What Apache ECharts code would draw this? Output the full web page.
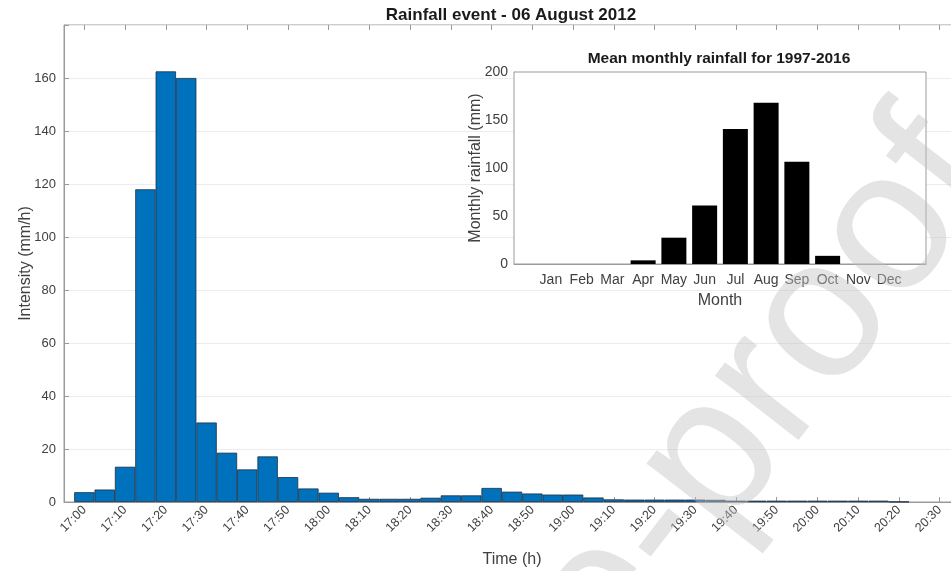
<!DOCTYPE html>
<html>
<head>
<meta charset="utf-8">
<script src="https://cdn.jsdelivr.net/npm/echarts@6/dist/echarts.min.js"></script>
<style>
  html, body { margin: 0; padding: 0; background: #fff; }
  #main { width: 951px; height: 571px; }
</style>
</head>
<body>
<div id="main"></div>
<script>
// rainfall event, 5 min bins
var times = [
  "17:00", "17:05", "17:10", "17:15", "17:20", "17:25", "17:30", "17:35", "17:40", "17:45", "17:50", "17:55",
  "18:00", "18:05", "18:10", "18:15", "18:20", "18:25", "18:30", "18:35", "18:40", "18:45", "18:50", "18:55",
  "19:00", "19:05", "19:10", "19:15", "19:20", "19:25", "19:30", "19:35", "19:40", "19:45", "19:50", "19:55",
  "20:00", "20:05", "20:10", "20:15", "20:20"
];
var intensity = [
  3.7, 4.7, 13.3, 118, 162.5, 160, 30, 18.6, 12.3, 17.2, 9.4, 5.1,
  3.5, 1.8, 1.2, 1.2, 1.2, 1.6, 2.5, 2.5, 5.3, 3.9, 3.2, 2.8,
  2.8, 1.7, 1.0, 0.9, 0.9, 0.9, 0.9, 0.8, 0.5, 0.5, 0.5, 0.5,
  0.5, 0.5, 0.5, 0.5, 0.1
];
var timeTicks = [
  "17:00", "17:10", "17:20", "17:30", "17:40", "17:50", "18:00", "18:10", "18:20", "18:30", "18:40",
  "18:50", "19:00", "19:10", "19:20", "19:30", "19:40", "19:50", "20:00", "20:10", "20:20", "20:30"
];

// inset: mean monthly rainfall 1997-2016
var months = ["Jan", "Feb", "Mar", "Apr", "May", "Jun", "Jul", "Aug", "Sep", "Oct", "Nov", "Dec"];
var monthlyRain = [0, 0, 0, 3.8, 27.4, 61, 140.5, 168, 106.5, 8.5, 0, 0];

var FONT = "Liberation Sans, Arial, sans-serif";
var AXIS_COLOR = "#9a9a9a";
var LABEL_COLOR = "#404040";

// minutes after 17:00
const toMin = t => {
  var p = t.split(":");
  return (parseInt(p[0]) - 17) * 60 + parseInt(p[1]);
};
const minToLabel = m => {
  for (var i = 0; i < timeTicks.length; i++) {
    if (toMin(timeTicks[i]) === m) return timeTicks[i];
  }
  return "";
};

var tickMin = timeTicks.map(toMin);
var monthPos = months.map((m, i) => i + 1);

var chart = echarts.init(document.getElementById("main"), null, { renderer: "canvas" });

var option = {
  animation: false,
  backgroundColor: "#fff",
  textStyle: { fontFamily: FONT },
  grid: [
    {
      left: 64, top: 25, right: -9, bottom: 69, outerBoundsMode: "none",
      show: true, borderColor: AXIS_COLOR, borderWidth: 1, backgroundColor: "#fff"
    },
    {
      left: 514, top: 72, right: 25, bottom: 307, outerBoundsMode: "none",
      show: true, borderColor: AXIS_COLOR, borderWidth: 1, backgroundColor: "#fff", z: 5
    }
  ],
  xAxis: [
    {
      gridIndex: 0, type: "value", min: -5, max: 215,
      name: "Time (h)", nameLocation: "middle", nameGap: 50,
      nameTextStyle: { fontSize: 16, color: LABEL_COLOR, fontFamily: FONT },
      axisLine: { show: true, onZero: false, lineStyle: { color: AXIS_COLOR } },
      axisTick: { show: true, inside: true, length: 5, customValues: tickMin, lineStyle: { color: AXIS_COLOR } },
      axisLabel: {
        customValues: tickMin, rotate: 45, fontSize: 12.5, color: LABEL_COLOR, margin: 6, fontFamily: FONT,
        formatter: v => minToLabel(v)
      },
      splitLine: { show: false }
    },
    {
      gridIndex: 0, type: "value", min: -5, max: 215, position: "top",
      axisLine: { show: false, onZero: false },
      axisTick: { show: true, inside: true, length: 5, customValues: tickMin, lineStyle: { color: AXIS_COLOR } },
      axisLabel: { show: false },
      splitLine: { show: false }
    },
    {
      gridIndex: 1, type: "value", min: -0.2, max: 13.2,
      name: "Month", nameLocation: "middle", nameGap: 29,
      nameTextStyle: { fontSize: 16, color: LABEL_COLOR, fontFamily: FONT },
      axisLine: { show: true, onZero: false, lineStyle: { color: AXIS_COLOR } },
      axisTick: { show: true, inside: true, length: 4, customValues: monthPos, lineStyle: { color: AXIS_COLOR } },
      axisLabel: {
        customValues: monthPos, fontSize: 14, color: LABEL_COLOR, margin: 9, fontFamily: FONT,
        formatter: v => months[v - 1] || ""
      },
      splitLine: { show: false }
    },
    {
      gridIndex: 1, type: "value", min: -0.2, max: 13.2, position: "top",
      axisLine: { show: false, onZero: false },
      axisTick: { show: true, inside: true, length: 4, customValues: monthPos, lineStyle: { color: AXIS_COLOR } },
      axisLabel: { show: false },
      splitLine: { show: false }
    }
  ],
  yAxis: [
    {
      gridIndex: 0, type: "value", min: 0, max: 180, interval: 20,
      name: "Intensity (mm/h)", nameLocation: "middle", nameGap: 30, nameMoveOverlap: false,
      nameTextStyle: { fontSize: 16, color: LABEL_COLOR, fontFamily: FONT },
      axisLine: { show: true, onZero: false, lineStyle: { color: AXIS_COLOR } },
      axisTick: { show: true, inside: true, length: 5, lineStyle: { color: AXIS_COLOR } },
      axisLabel: {
        fontSize: 13, color: LABEL_COLOR, margin: 8, fontFamily: FONT,
        formatter: v => (v >= 180 ? "" : v)
      },
      splitLine: { show: true, lineStyle: { color: "#ececec", width: 1 } }
    },
    {
      gridIndex: 1, type: "value", min: 0, max: 200, interval: 50,
      name: "Monthly rainfall (mm)", nameLocation: "middle", nameGap: 30, nameMoveOverlap: false,
      nameTextStyle: { fontSize: 16, color: LABEL_COLOR, fontFamily: FONT },
      axisLine: { show: true, onZero: false, lineStyle: { color: AXIS_COLOR } },
      axisTick: { show: true, inside: true, length: 4, lineStyle: { color: AXIS_COLOR } },
      axisLabel: { fontSize: 14, color: LABEL_COLOR, margin: 6, fontFamily: FONT },
      splitLine: { show: true, lineStyle: { color: "#ececec", width: 1 } }
    },
    {
      gridIndex: 1, type: "value", min: 0, max: 200, interval: 50, position: "right",
      axisLine: { show: false, onZero: false },
      axisTick: { show: true, inside: true, length: 4, lineStyle: { color: AXIS_COLOR } },
      axisLabel: { show: false },
      splitLine: { show: false }
    }
  ],
  series: [
    {
      type: "bar",
      xAxisIndex: 0, yAxisIndex: 0,
      barWidth: 20.4,
      data: times.map((t, i) => [toMin(t), intensity[i]]),
      itemStyle: { color: "#0072BD", borderColor: "#1a2e44", borderWidth: 0.8 }
    },
    {
      type: "bar",
      xAxisIndex: 2, yAxisIndex: 1,
      barWidth: 25,
      z: 6,
      data: months.map((m, i) => [i + 1, monthlyRain[i]]),
      itemStyle: { color: "#000", borderWidth: 0 }
    }
  ],
  graphic: [
    {
      type: "text", x: 511, y: 15, z: 10,
      style: {
        text: "Rainfall event - 06 August 2012", font: "bold 17px " + FONT, fill: "#1a1a1a",
        align: "center", verticalAlign: "middle"
      }
    },
    {
      type: "text", x: 719, y: 59, z: 10,
      style: {
        text: "Mean monthly rainfall for 1997-2016", font: "bold 15.5px " + FONT, fill: "#1a1a1a",
        align: "center", verticalAlign: "middle"
      }
    },
    {
      // "Journal Pre-proof" watermark
      type: "text", x: 958, y: 145, rotation: 0.91, z: 20, silent: true,
      style: {
        text: "Journal Pre-proof", font: "200px " + FONT, fill: "rgba(195,195,195,0.45)",
        align: "right", verticalAlign: "middle"
      }
    }
  ]
};

chart.setOption(option);
window.onresize = function() {
  chart.resize();
};
</script>
</body>
</html>
